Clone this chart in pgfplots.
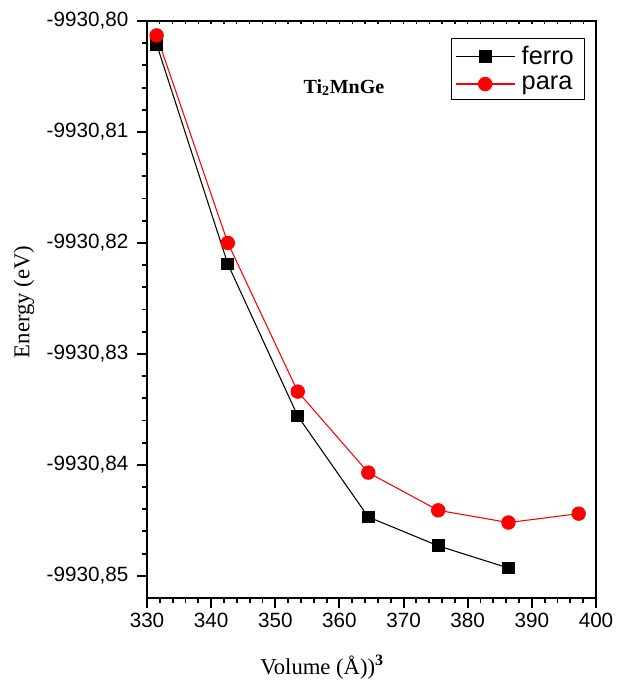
\documentclass[border=0pt]{standalone}
\usepackage{pgfplots}
\pgfplotsset{compat=1.18}
\usepackage{fontspec}
\setmainfont{Liberation Serif}
\setsansfont{Liberation Sans}
\begin{document}
\begin{tikzpicture}
% Energies given as offsets from -9930.80 eV (E + 9930.80), to keep precision
\begin{axis}[
  at={(0,0)}, anchor=south west,
  scale only axis, width=336.75pt, height=432.75pt,
  xmin=330, xmax=400, ymin=-0.052, ymax=0,
  xtick={330,340,...,400},
  ytick={-0.05,-0.04,-0.03,-0.02,-0.01,0},
  yticklabels={{-9930,85},{-9930,84},{-9930,83},{-9930,82},{-9930,81},{-9930,80}},
  scaled y ticks=false, scaled x ticks=false,
  minor x tick num=4, minor y tick num=4,
  xtick pos=left, ytick pos=left,
  tick align=outside,
  major tick length=7.5pt, minor tick length=4pt,
  axis line style={line width=1.6pt},
  every tick/.style={line width=1.4pt, black},
  /pgf/number format/assume math mode=true,
  tick label style={font=\sffamily\fontsize{15.5}{18}\selectfont},
  yticklabel style={xshift=-3pt},
  xlabel={Volume (Å))\textsuperscript{\textbf{3}}},
  ylabel={Energy (eV)},
  label style={font=\fontsize{17}{20}\selectfont},
  xlabel style={at={(axis description cs:0.39,0)}, anchor=center, yshift=-52pt},
  ylabel style={at={(axis description cs:-0.274,0.513)}, anchor=center},
  legend style={at={(0.9755,0.9705)}, anchor=north east, draw=black, line width=0.8pt,
    font=\sffamily\fontsize{19}{22}\selectfont, row sep=3pt, inner xsep=3pt, inner ysep=4pt,
    nodes={inner xsep=5pt}},
  legend cell align=left,
  legend image code/.code={\draw[mark repeat=2,mark phase=2,#1] plot coordinates {(0pt,0pt) (22pt,0pt) (44pt,0pt)};},
]
\addplot[black, line width=0.8pt, mark=square*, mark size=4.4pt, mark options={solid,fill=black}]
  coordinates {(331.5,-0.0021) (342.6,-0.0219) (353.5,-0.0356) (364.5,-0.0447) (375.4,-0.0473) (386.35,-0.0493)};
\addlegendentry{ferro}
\addplot[red, line width=0.8pt, mark=*, mark size=5pt, mark options={solid,fill=red}]
  coordinates {(331.5,-0.0013) (342.6,-0.0200) (353.5,-0.0334) (364.5,-0.0407) (375.4,-0.0441) (386.35,-0.0452) (397.3,-0.0444)};
\addlegendentry{para}
\node[font=\bfseries\fontsize{15}{17}\selectfont] at (axis cs:360.7,-0.0060) {Ti\textsubscript{2}MnGe};
\end{axis}
\begin{axis}[
  at={(0,0)}, anchor=south west,
  scale only axis, width=336.75pt, height=432.75pt,
  xmin=330, xmax=400, ymin=-0.052, ymax=0,
  axis x line*=top, axis y line=none,
  xtick={330,332,...,400}, xticklabels={},
  tick align=inside, major tick length=2.5pt,
  axis line style={line width=1.6pt},
  every tick/.style={line width=1pt, black},
]
\end{axis}
\pgfresetboundingbox
\useasboundingbox (-110.25pt,-61.5pt) rectangle (351.75pt,448.5pt);
\end{tikzpicture}
\end{document}
